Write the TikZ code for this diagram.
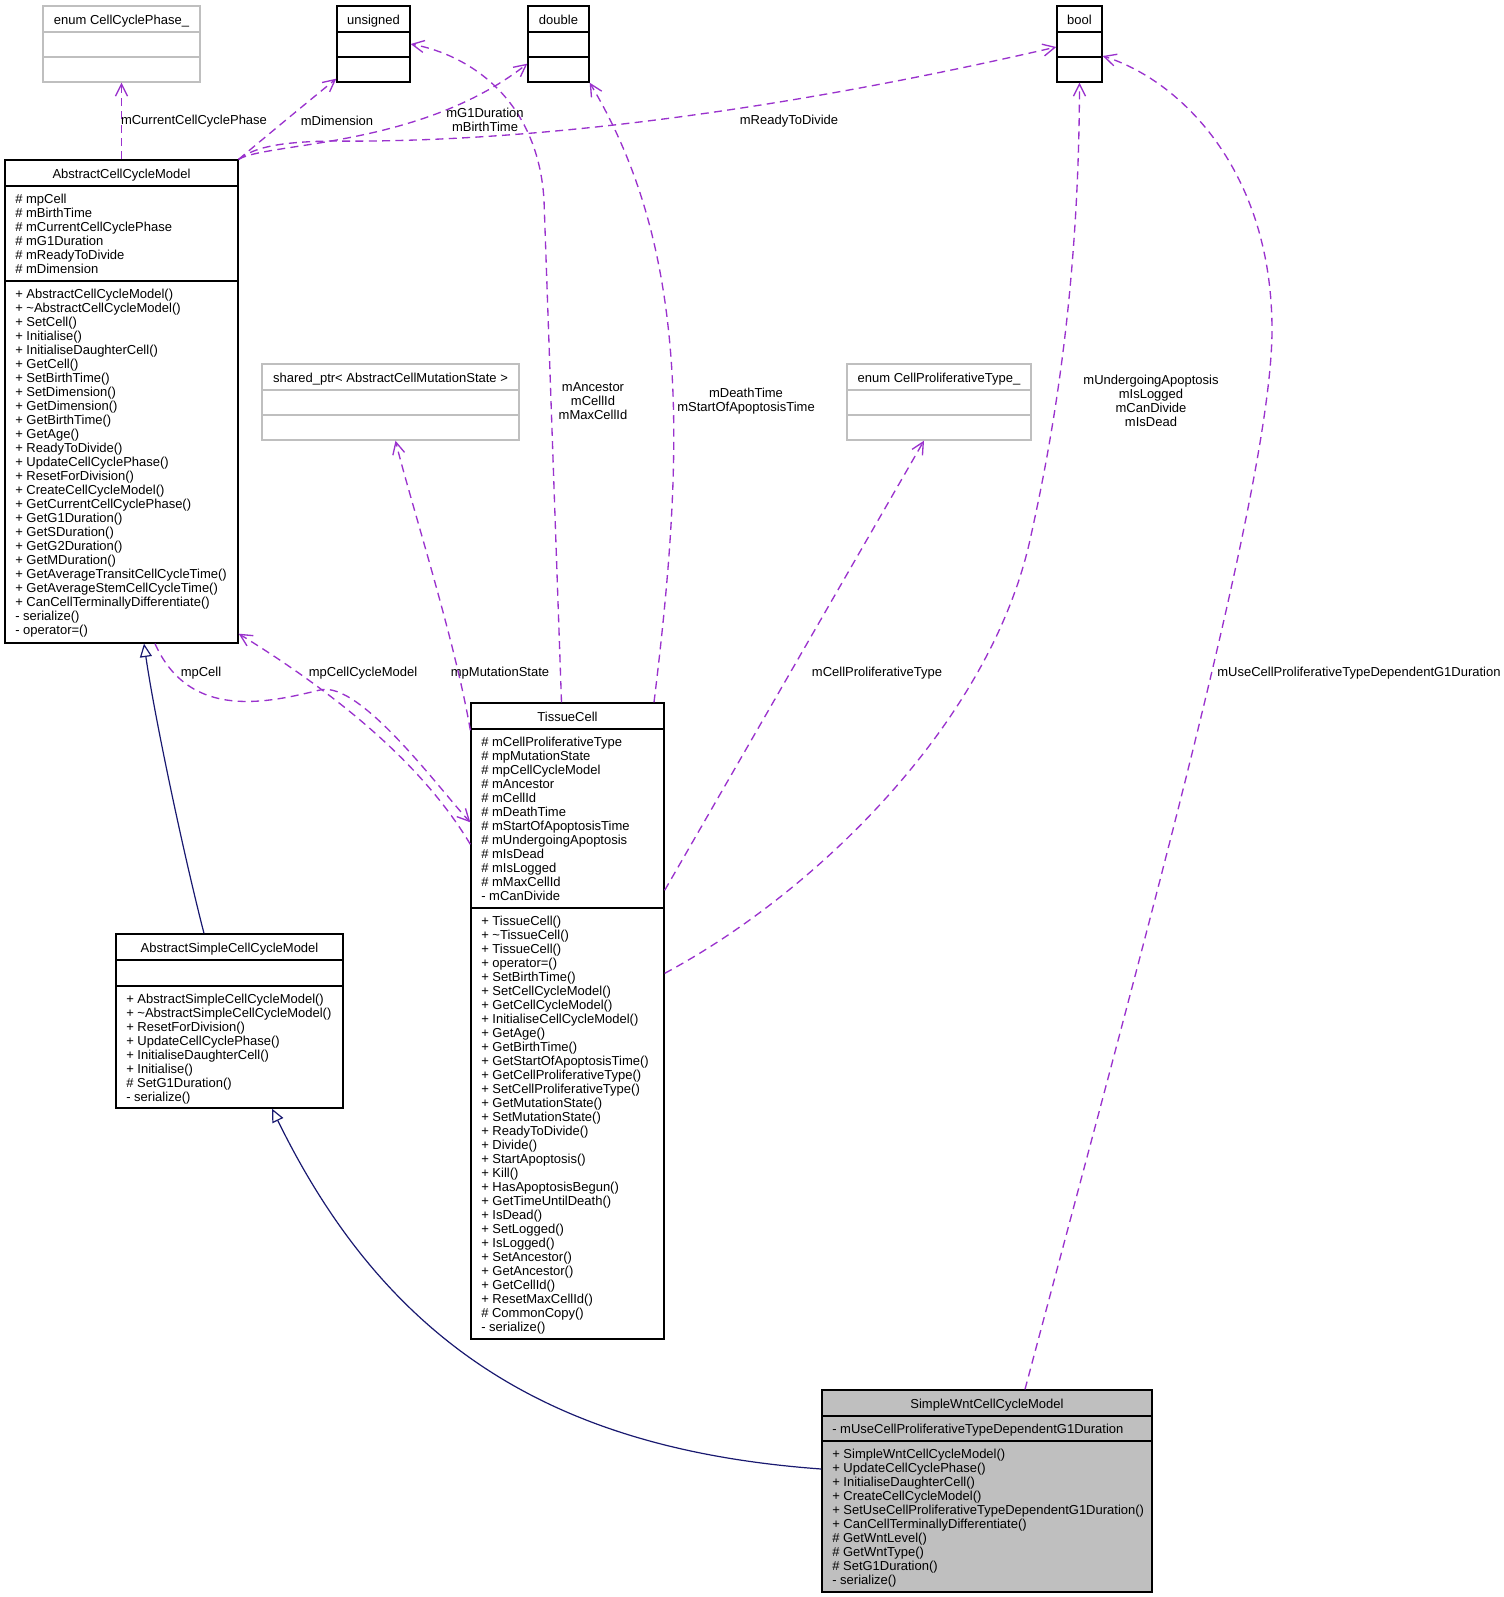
\documentclass[tikz,border=0pt]{standalone}
\usepackage{fontspec}
\setmainfont{Liberation Sans}
\usetikzlibrary{arrows.meta,fit,calc}
\definecolor{usecol}{HTML}{9A32CD}
\definecolor{inhcol}{HTML}{191970}
\definecolor{boxgray}{HTML}{BFBFBF}
\newcommand\umlrows[4]{\foreach \t [count=\i] in {#4} {\node[txt, anchor=base west] (#1\i) at (#2, {#3+14*(\i-1)}) {\t};}}
\begin{document}
\begin{tikzpicture}[x=0.75pt,y=-0.75pt,
 txt/.style={font=\fontsize{9.75}{10.5}\selectfont, inner sep=0pt, text=black},
 lbl/.style={txt, align=center},
 cls/.style={draw=black, line width=1pt, inner sep=0pt},
 gcls/.style={draw=boxgray, line width=1pt, inner sep=0pt},
 sepl/.style={draw=black, line width=1.5pt},
 gsepl/.style={draw=boxgray, line width=1.2pt},
 use/.style={draw=usecol, line width=1pt, dash pattern=on 6pt off 4pt, -{Straight Barb[length=9pt,width=9pt]}},
 inh/.style={draw=inhcol, line width=0.9pt, -{Triangle[length=10pt,width=9pt,fill=white]}}
]
\useasboundingbox (0,0) rectangle (1504,1597);

% ---- type boxes at top
\node[gcls, fit={(43,6) (200,82)}] (ccp) {};
\draw[gsepl] (43,32) -- (200,32) (43,57) -- (200,57);
\node[txt, anchor=base] (ccp-t) at (121.5,24) {enum CellCyclePhase\_};

\node[cls, fit={(337,6) (410,82)}] (uns) {};
\draw[sepl] (337,32) -- (410,32) (337,57) -- (410,57);
\node[txt, anchor=base] (uns-t) at (373.5,24) {unsigned};

\node[cls, fit={(528,6) (589,82)}] (dbl) {};
\draw[sepl] (528,32) -- (589,32) (528,57) -- (589,57);
\node[txt, anchor=base] (dbl-t) at (558.5,24) {double};

\node[cls, fit={(1057,6) (1102,82)}] (bool) {};
\draw[sepl] (1057,32) -- (1102,32) (1057,57) -- (1102,57);
\node[txt, anchor=base] (bool-t) at (1079.5,24) {bool};

\node[gcls, fit={(262,364) (519,440)}] (sp) {};
\draw[gsepl] (262,390) -- (519,390) (262,415) -- (519,415);
\node[txt, anchor=base] (sp-t) at (390.5,382) {shared\_ptr< AbstractCellMutationState >};

\node[gcls, fit={(847,364) (1031,440)}] (cpt) {};
\draw[gsepl] (847,390) -- (1031,390) (847,415) -- (1031,415);
\node[txt, anchor=base] (cpt-t) at (939,382) {enum CellProliferativeType\_};

% ---- AbstractCellCycleModel
\node[cls, fit={(5,160) (238,643)}] (acm) {};
\draw[sepl] (5,186) -- (238,186) (5,281) -- (238,281);
\node[txt, anchor=base] (acm-t) at (121.5,178) {AbstractCellCycleModel};
\umlrows{acm-a}{15}{203.5}{\# mpCell, \# mBirthTime, \# mCurrentCellCyclePhase, \# mG1Duration, \# mReadyToDivide, \# mDimension}
\umlrows{acm-m}{15}{298.5}{+ AbstractCellCycleModel(), + \textasciitilde AbstractCellCycleModel(), + SetCell(), + Initialise(), + InitialiseDaughterCell(), + GetCell(), + SetBirthTime(), + SetDimension(), + GetDimension(), + GetBirthTime(), + GetAge(), + ReadyToDivide(), + UpdateCellCyclePhase(), + ResetForDivision(), + CreateCellCycleModel(), + GetCurrentCellCyclePhase(), + GetG1Duration(), + GetSDuration(), + GetG2Duration(), + GetMDuration(), + GetAverageTransitCellCycleTime(), + GetAverageStemCellCycleTime(), + CanCellTerminallyDifferentiate(), - serialize(), - operator=()}

% ---- TissueCell
\node[cls, fit={(471,703) (664,1339)}] (tc) {};
\draw[sepl] (471,729) -- (664,729) (471,908) -- (664,908);
\node[txt, anchor=base] (tc-t) at (567.5,721) {TissueCell};
\umlrows{tc-a}{481}{746.5}{\# mCellProliferativeType, \# mpMutationState, \# mpCellCycleModel, \# mAncestor, \# mCellId, \# mDeathTime, \# mStartOfApoptosisTime, \# mUndergoingApoptosis, \# mIsDead, \# mIsLogged, \# mMaxCellId, - mCanDivide}
\umlrows{tc-m}{481}{925.5}{+ TissueCell(), + \textasciitilde TissueCell(), + TissueCell(), + operator=(), + SetBirthTime(), + SetCellCycleModel(), + GetCellCycleModel(), + InitialiseCellCycleModel(), + GetAge(), + GetBirthTime(), + GetStartOfApoptosisTime(), + GetCellProliferativeType(), + SetCellProliferativeType(), + GetMutationState(), + SetMutationState(), + ReadyToDivide(), + Divide(), + StartApoptosis(), + Kill(), + HasApoptosisBegun(), + GetTimeUntilDeath(), + IsDead(), + SetLogged(), + IsLogged(), + SetAncestor(), + GetAncestor(), + GetCellId(), + ResetMaxCellId(), \# CommonCopy(), - serialize()}

% ---- AbstractSimpleCellCycleModel
\node[cls, fit={(116,934) (343,1108)}] (asc) {};
\draw[sepl] (116,960) -- (343,960) (116,986) -- (343,986);
\node[txt, anchor=base] (asc-t) at (229.5,952) {AbstractSimpleCellCycleModel};
\umlrows{asc-m}{126}{1003.5}{+ AbstractSimpleCellCycleModel(), + \textasciitilde AbstractSimpleCellCycleModel(), + ResetForDivision(), + UpdateCellCyclePhase(), + InitialiseDaughterCell(), + Initialise(), \# SetG1Duration(), - serialize()}

% ---- SimpleWntCellCycleModel
\node[cls, fill=boxgray, fit={(822,1390) (1152,1592)}] (swm) {};
\draw[sepl] (822,1416) -- (1152,1416) (822,1441) -- (1152,1441);
\node[txt, anchor=base] (swm-t) at (987,1408) {SimpleWntCellCycleModel};
\umlrows{swm-a}{832}{1433.5}{- mUseCellProliferativeTypeDependentG1Duration}
\umlrows{swm-m}{832}{1458.5}{+ SimpleWntCellCycleModel(), + UpdateCellCyclePhase(), + InitialiseDaughterCell(), + CreateCellCycleModel(), + SetUseCellProliferativeTypeDependentG1Duration(), + CanCellTerminallyDifferentiate(), \# GetWntLevel(), \# GetWntType(), \# SetG1Duration(), - serialize()}

% ---- usage edges
\draw[use] (acm.north) -- (ccp.south);
\draw[use] (acm.north east) .. controls (258,143) and (310,100) .. ($(uns.south west)+(0,-4)$);
\draw[use] (acm.north east) .. controls (268,142) and (420,148) .. ($(dbl.south west)+(0,-19)$);
\draw[use] (acm.north east) .. controls (255,147) and (280,142) .. (330,141) .. controls (500,143) and (740,120) .. ($(bool.west)+(0,3)$);
\draw[use] ($(tc.north)+(-6,0)$) -- (544,200) .. controls (538,100) and (470,55) .. (uns.east);
\draw[use] ($(tc.north)+(86.5,0)$) .. controls (685,450) and (690,250) .. (dbl.south east);
\draw[use] ($(tc.north west)+(0,28)$) .. controls (455,640) and (410,500) .. ($(sp.south)+(5,0)$);
\draw[use] ($(tc.north east)+(0,188)$) -- ($(cpt.south)+(-15,0)$);
\draw[use] ($(tc.north east)+(0,271)$) .. controls (820,890) and (990,720) .. (1030,540) .. controls (1050,450) and (1079,300) .. (bool.south);
\draw[use] ($(swm.north)+(38,0)$) .. controls (1150,920) and (1272,480) .. (1272,330) .. controls (1272,170) and (1180,80) .. ($(bool.east)+(0,12)$);
\draw[use] ($(acm.south)+(33.5,0)$) .. controls (190,722) and (270,702) .. (320,690) .. controls (360,680) and (440,790) .. ($(tc.north west)+(0,120)$);
\draw[use] ($(tc.north west)+(0,142)$) .. controls (420,760) and (330,690) .. ($(acm.south east)+(0,-10)$);

% ---- inheritance edges
\draw[inh] ($(asc.north)+(-25.5,0)$) .. controls (185,860) and (155,720) .. ($(acm.south)+(22.5,0)$);
\draw[inh] ($(swm.west)+(0,-22)$) .. controls (560,1450) and (390,1350) .. ($(asc.south)+(42.5,0)$);

% ---- edge labels
\node[lbl] (l-ccp) at (194,121) {mCurrentCellCyclePhase};
\node[lbl] (l-dim) at (337,121) {mDimension};
\node[lbl] (l-g1) at (485,120) {mG1Duration\\mBirthTime};
\node[lbl] (l-rtd) at (789,121) {mReadyToDivide};
\node[lbl] (l-anc) at (593,401) {mAncestor\\mCellId\\mMaxCellId};
\node[lbl] (l-dt) at (746,401) {mDeathTime\\mStartOfApoptosisTime};
\node[lbl] (l-ua) at (1151,401) {mUndergoingApoptosis\\mIsLogged\\mCanDivide\\mIsDead};
\node[lbl] (l-pc) at (201,673) {mpCell};
\node[lbl] (l-pccm) at (363,673) {mpCellCycleModel};
\node[lbl] (l-pms) at (500,673) {mpMutationState};
\node[lbl] (l-cpt) at (877,673) {mCellProliferativeType};
\node[lbl] (l-use) at (1359,673) {mUseCellProliferativeTypeDependentG1Duration};
\end{tikzpicture}
\end{document}
